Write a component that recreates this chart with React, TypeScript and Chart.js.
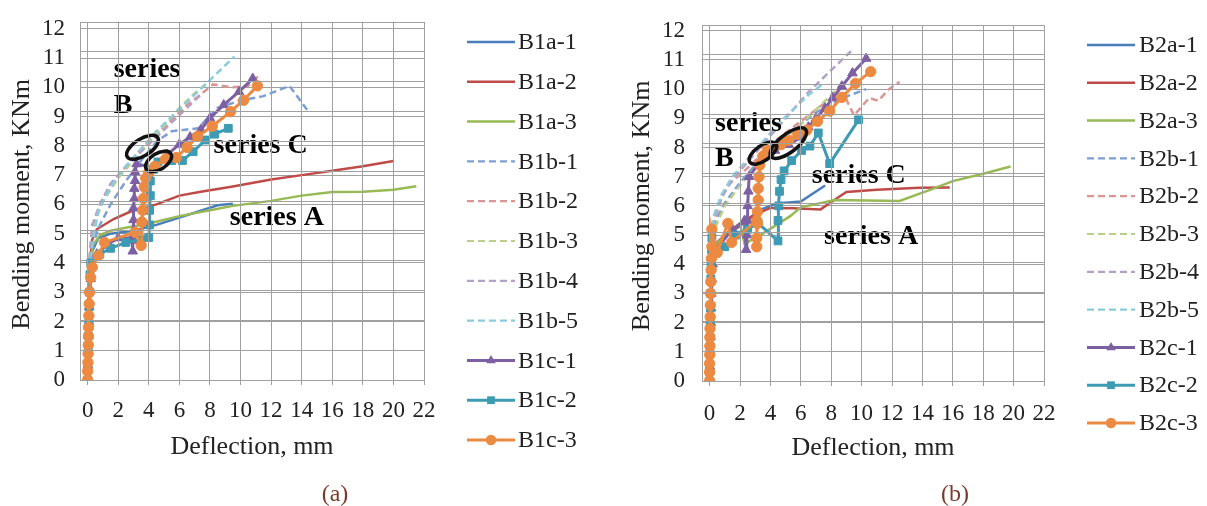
import React, { useEffect, useRef } from 'react';
import { Chart, registerables } from 'chart.js';
Chart.register(...registerables);

type Pt = [number, number];

// ---------- Panel (a) data: [deflection mm, moment kNm] ----------
const B1a_1: Pt[] = [[0,0],[0.03,1],[0.06,2],[0.1,3],[0.15,3.8],[0.3,4.4],[0.7,4.85],[1.5,5.0],[3,5.1],[4.5,5.3],[6,5.55],[7.5,5.8],[8.5,5.97],[9.5,6.02]];
const B1a_2: Pt[] = [[0,0],[0.03,1],[0.06,2],[0.1,3],[0.15,4],[0.3,4.8],[0.6,5.15],[1.7,5.5],[3,5.8],[4.5,6.0],[6,6.3],[7.4,6.43],[9.4,6.6],[12,6.85],[14,7.0],[16,7.15],[18,7.3],[20,7.48]];
const B1a_3: Pt[] = [[0,0],[0.03,1],[0.06,2],[0.1,3],[0.15,4],[0.35,4.6],[0.8,4.95],[1.5,5.1],[2.5,5.2],[4,5.35],[6,5.6],[8,5.8],[9.5,5.95],[12,6.12],[14,6.3],[16,6.42],[18,6.43],[20,6.5],[21.5,6.62]];
const B1b_1: Pt[] = [[0,0],[0.05,2],[0.1,4],[0.3,4.6],[0.8,5.3],[1.5,6.0],[2.5,6.8],[3.5,7.5],[4.5,8.15],[5.5,8.5],[7.2,8.6],[8.5,9.3],[10,9.55],[11.5,9.7],[13.2,10.05],[14.4,9.2]];
const B1b_2: Pt[] = [[0,0],[0.05,2],[0.1,4],[0.3,5.2],[0.8,6.0],[1.5,6.7],[2.5,7.3],[3.5,7.9],[4.5,8.4],[5.5,8.9],[6.5,9.4],[7.5,9.8],[8.2,10.1],[9.5,10.0],[10.5,10.05],[11.2,10.4]];
const B1b_3: Pt[] = [[0,0],[0.05,2],[0.1,4],[0.4,5.3],[1,6.1],[2,6.9],[3,7.5],[4,8.1],[5,8.7],[6,9.3],[7,9.8],[8,10.2]];
const B1b_4: Pt[] = [[0,0],[0.05,2],[0.1,4],[0.3,5.3],[0.8,6.0],[1.5,6.7],[2.5,7.3],[3.5,7.8],[4.5,8.3],[5.5,8.8],[6.5,9.3],[7.5,9.8]];
const B1b_5: Pt[] = [[0,0],[0.05,2],[0.1,3.5],[0.3,4.6],[0.7,5.8],[1.5,6.6],[2.5,7.3],[3.5,7.9],[4.5,8.5],[5.5,9.0],[6.5,9.5],[7.5,10.0],[8.5,10.5],[9.6,11.05]];
const B1c_1: Pt[] = [[0,0],[0.02,0.5],[0.04,1],[0.06,1.5],[0.08,2],[0.1,2.5],[0.15,3.1],[0.2,3.46],[0.3,3.9],[0.6,4.3],[1.2,4.6],[2.0,4.85],[2.9,4.85],[2.95,4.4],[2.95,4.77],[3.0,5.1],[3.0,5.47],[3.0,5.87],[3.05,6.2],[3.05,6.54],[3.1,6.81],[3.1,7.11],[3.2,7.38],[4.4,7.25],[5.2,7.7],[6.0,8.05],[6.7,8.3],[7.4,8.55],[8.0,8.95],[8.9,9.4],[9.9,9.85],[10.8,10.3]];
const B1c_2: Pt[] = [[0,0],[0.02,0.5],[0.04,1],[0.06,1.5],[0.08,2],[0.1,2.5],[0.12,3],[0.15,3.6],[0.2,4.0],[0.8,4.3],[1.5,4.5],[2.5,4.7],[3.5,4.8],[4.0,4.87],[4.05,5.3],[4.05,5.8],[4.1,6.3],[4.1,6.8],[4.3,7.2],[4.6,7.45],[5.5,7.5],[6.2,7.5],[6.9,7.8],[7.7,8.2],[8.3,8.4],[9.2,8.6]];
const B1c_3: Pt[] = [[0,0],[0,0.3],[0.02,0.6],[0.03,0.9],[0.04,1.2],[0.05,1.5],[0.06,1.8],[0.08,2.2],[0.1,2.6],[0.12,3.0],[0.2,3.5],[0.3,3.85],[0.7,4.25],[1.1,4.7],[3.1,5.05],[3.5,4.6],[3.55,5.4],[3.6,5.8],[3.65,6.2],[3.7,6.6],[3.8,6.9],[4.0,7.1],[4.4,7.3],[5.1,7.55],[5.8,7.6],[6.5,7.95],[7.2,8.33],[8.15,8.67],[9.35,9.17],[10.2,9.56],[11.1,10.05]];

// ---------- Panel (b) data ----------
const B2a_1: Pt[] = [[0,0],[0.05,2],[0.1,4],[0.3,4.6],[1,5.0],[2,5.3],[2.5,5.55],[3.5,5.9],[4.4,6.08],[6,6.15],[7.6,6.7]];
const B2a_2: Pt[] = [[0,0],[0.05,2],[0.1,4],[0.4,4.7],[1,5.0],[2,5.35],[3,5.7],[4,5.93],[5.5,5.92],[7.3,5.88],[8.2,6.2],[9,6.48],[11,6.55],[13.8,6.62],[15.8,6.63]];
const B2a_3: Pt[] = [[0,0],[0.05,2],[0.1,4],[0.3,4.6],[1,5.0],[2,5.4],[2.3,4.7],[3.5,5.05],[5.3,5.65],[6,5.95],[7.5,6.12],[8.2,6.2],[12.5,6.17],[14.5,6.55],[16,6.85],[18,7.1],[19.8,7.35]];
const B2b_1: Pt[] = [[0,0],[0.05,2],[0.1,4.5],[0.4,5.5],[1,6.1],[2,6.8],[3,7.4],[4,7.9],[5,8.4],[6,8.8],[7,9.2],[8,9.5],[9,9.75],[10.3,10.0]];
const B2b_2: Pt[] = [[0,0],[0.05,2],[0.1,4.5],[0.3,5.5],[0.8,6.3],[1.3,6.75],[2.5,7.3],[3.5,7.8],[4.5,8.3],[5.5,8.7],[6.5,9.1],[7.5,9.5],[8.8,9.85],[9.5,9.1],[10.5,9.7],[11.1,9.6],[11.8,10.0],[12.5,10.25]];
const B2b_3: Pt[] = [[0,0],[0.05,2],[0.1,4.3],[0.4,5.3],[1,6.0],[2,6.7],[3,7.3],[4,7.8],[5,8.3],[6,8.8],[7,9.3],[8,9.8],[8.7,10.2]];
const B2b_4: Pt[] = [[0,0],[0.05,2],[0.1,4.5],[0.3,5.6],[0.8,6.3],[1.5,6.9],[2.5,7.5],[3.5,8.1],[4.5,8.7],[5.5,9.3],[6.5,9.9],[7.5,10.4],[8.5,10.9],[9.3,11.3]];
const B2b_5: Pt[] = [[0,0],[0.05,2],[0.1,4.6],[0.3,5.7],[0.8,6.4],[1.5,7.0],[2.5,7.6],[3.5,8.2],[4.5,8.8],[5.5,9.3],[6.5,9.8],[7.5,10.2]];
const B2c_1: Pt[] = [[0,0],[0.02,0.5],[0.04,1],[0.06,1.5],[0.08,2],[0.1,2.5],[0.12,3],[0.15,3.5],[0.2,4.0],[0.4,4.5],[1.5,5.2],[2.3,5.5],[2.4,4.5],[2.45,5.0],[2.5,5.5],[2.5,6.0],[2.55,6.5],[2.6,7.0],[3.3,7.5],[4.3,7.9],[5.2,8.1],[6.0,8.35],[6.5,8.7],[7.0,9.0],[7.6,9.35],[8.1,9.7],[8.7,10.1],[9.4,10.55],[10.3,11.05]];
const B2c_2: Pt[] = [[0,0],[0,0.5],[0.02,1],[0.03,1.5],[0.04,2],[0.05,2.5],[0.06,3],[0.08,3.5],[0.1,4],[0.12,4.5],[0.15,4.9],[0.5,4.45],[1,4.6],[1.7,5.0],[2.5,5.2],[3.2,5.4],[4.5,4.8],[4.5,5.5],[4.55,6.0],[4.6,6.5],[4.7,6.9],[4.9,7.2],[5.4,7.55],[6.05,7.9],[6.6,8.05],[7.15,8.5],[7.9,7.45],[9.8,8.95]];
const B2c_3: Pt[] = [[0,0],[0,0.3],[0,0.6],[0.01,0.9],[0.02,1.2],[0.02,1.5],[0.03,1.8],[0.04,2.2],[0.05,2.6],[0.06,3.0],[0.08,3.4],[0.1,3.8],[0.12,4.2],[0.15,4.6],[0.15,5.2],[0.5,4.4],[1.2,5.4],[1.45,4.75],[3.1,5.5],[3.1,4.6],[3.1,4.9],[3.15,5.4],[3.15,5.8],[3.2,6.2],[3.2,6.6],[3.25,7.0],[3.3,7.4],[3.5,7.7],[3.8,7.9],[4.7,8.1],[5.2,8.25],[5.8,8.45],[6.4,8.6],[7.1,8.9],[7.9,9.25],[8.7,9.72],[9.6,10.2],[10.6,10.6]];

const seriesA = [B1a_1, B1a_2, B1a_3, B1b_1, B1b_2, B1b_3, B1b_4, B1b_5, B1c_1, B1c_2, B1c_3];
const seriesB = [B2a_1, B2a_2, B2a_3, B2b_1, B2b_2, B2b_3, B2b_4, B2b_5, B2c_1, B2c_2, B2c_3];
const namesA = ['B1a-1','B1a-2','B1a-3','B1b-1','B1b-2','B1b-3','B1b-4','B1b-5','B1c-1','B1c-2','B1c-3'];
const namesB = ['B2a-1','B2a-2','B2a-3','B2b-1','B2b-2','B2b-3','B2b-4','B2b-5','B2c-1','B2c-2','B2c-3'];

const xTicks = [0,2,4,6,8,10,12,14,16,18,20,22];
const yTicks = [0,1,2,3,4,5,6,7,8,9,10,11,12];
const xTitle = 'Deflection, mm';
const yTitle = 'Bending moment, KNm';

// ---------- styles ----------
const FONT = "'Liberation Serif', 'Times New Roman', serif";
const COLORS = ['#4A7EBB','#BE4B48','#98B954','#7E9FD2','#D99694','#B9CF8A','#B3A2C7','#8CCBDD','#7D5FA3','#3D9BB3','#EC8A42'];
const DASHED = [false,false,false,true,true,true,true,true,false,false,false];
const MARKS: (string | null)[] = [null,null,null,null,null,null,null,null,'triangle','rect','circle'];
const GRID = '#a0a0a0';

function drawMarker(ctx: CanvasRenderingContext2D, style: string, x: number, y: number, r: number, color: string) {
  ctx.save();
  ctx.fillStyle = color;
  ctx.beginPath();
  if (style === 'triangle') {
    let rad = 0;
    ctx.moveTo(x + Math.sin(rad) * r, y - Math.cos(rad) * r);
    rad += (2 * Math.PI) / 3;
    ctx.lineTo(x + Math.sin(rad) * r, y - Math.cos(rad) * r);
    rad += (2 * Math.PI) / 3;
    ctx.lineTo(x + Math.sin(rad) * r, y - Math.cos(rad) * r);
    ctx.closePath();
  } else if (style === 'rect') {
    const s = r * Math.SQRT1_2;
    ctx.rect(x - s, y - s, 2 * s, 2 * s);
  } else {
    ctx.arc(x, y, r, 0, Math.PI * 2);
  }
  ctx.fill();
  ctx.restore();
}

type Note = { t: string; x: number; y: number };
type Ell = { x: number; y: number; rx: number; ry: number; rot: number };

type PanelGeom = {
  left: number; width: number; height: number;
  areaLeft: number; areaRight: number; areaTop: number; areaBottom: number;
  yLabelPad: number; yTitlePad: number; xLabelPad: number; xTitlePad: number;
  legX0: number; legX1: number; legTX: number; legY0: number; legStep: number;
  capX: number; capY: number; caption: string;
};

// grid-only chart: same scales, no data, drawn on its own transparent canvas
function makeGridConfig(g: PanelGeom) {
  return {
    type: 'scatter' as const,
    data: { datasets: [{ label: 'grid', data: [], showLine: false, pointRadius: 0 }] },
    options: {
      responsive: false,
      animation: false,
      layout: { padding: { left: 0, top: g.areaTop, right: g.width - g.areaRight, bottom: 0 } },
      plugins: { legend: { display: false }, tooltip: { enabled: false } },
      scales: {
        x: {
          type: 'linear', min: -0.5, max: 22,
          afterBuildTicks: (s: any) => { s.ticks = xTicks.map((v) => ({ value: v })); },
          afterFit: (s: any) => { s.height = g.height - g.areaBottom; },
          grid: { color: GRID, tickLength: 5 },
          border: { color: GRID },
          ticks: { display: false },
        },
        y: {
          type: 'linear', min: 0, max: 12,
          afterBuildTicks: (s: any) => { s.ticks = yTicks.map((v) => ({ value: v })); },
          afterFit: (s: any) => { s.width = g.areaLeft; },
          grid: { color: GRID, drawTicks: false },
          border: { color: GRID },
          ticks: { display: false },
        },
      },
    },
  };
}

function makeConfig(series: Pt[][], names: string[], g: PanelGeom, notes: Note[], ells: Ell[]) {
  const datasets = series.map((s, i) => ({
    label: names[i],
    data: s.map(([x, y]) => ({ x, y })),
    showLine: true,
    fill: false,
    borderColor: COLORS[i],
    backgroundColor: COLORS[i],
    pointBackgroundColor: COLORS[i],
    pointBorderColor: COLORS[i],
    borderWidth: i >= 8 ? 3 : 2.5,
    borderDash: DASHED[i] ? [7, 4] : undefined,
    pointStyle: MARKS[i] || 'circle',
    pointRadius: MARKS[i] ? (MARKS[i] === 'circle' ? 5.2 : 5.5) : 0,
    pointBorderWidth: 1,
    tension: 0,
    order: series.length - i,
  }));

  const legendPlugin = {
    id: 'excelLegend',
    afterDraw(chart: any) {
      const ctx = chart.ctx as CanvasRenderingContext2D;
      chart.data.datasets.forEach((ds: any, i: number) => {
        const y = g.legY0 + i * g.legStep;
        ctx.save();
        ctx.strokeStyle = ds.borderColor;
        ctx.lineWidth = DASHED[i] ? 2.2 : ds.borderWidth;
        ctx.setLineDash(ds.borderDash || []);
        ctx.beginPath();
        ctx.moveTo(g.legX0, y);
        ctx.lineTo(g.legX1, y);
        ctx.stroke();
        ctx.setLineDash([]);
        if (ds.pointRadius > 0) drawMarker(ctx, ds.pointStyle, (g.legX0 + g.legX1) / 2, y, ds.pointRadius, ds.backgroundColor);
        ctx.fillStyle = '#222';
        ctx.font = `24px ${FONT}`;
        ctx.textBaseline = 'middle';
        ctx.textAlign = 'left';
        ctx.fillText(ds.label, g.legTX, y + 1);
        ctx.restore();
      });
      ctx.save();
      ctx.fillStyle = '#7a3b2e';
      ctx.font = `24px ${FONT}`;
      ctx.textAlign = 'center';
      ctx.textBaseline = 'middle';
      ctx.fillText(g.caption, g.capX, g.capY);
      ctx.restore();
    },
  };

  const notePlugin = {
    id: 'seriesNotes',
    afterDatasetsDraw(chart: any) {
      const ctx = chart.ctx as CanvasRenderingContext2D;
      const xs = chart.scales.x, ys = chart.scales.y;
      ctx.save();
      ctx.strokeStyle = '#111';
      ctx.lineWidth = 3.5;
      ells.forEach((e) => {
        ctx.beginPath();
        ctx.ellipse(xs.getPixelForValue(e.x), ys.getPixelForValue(e.y), e.rx, e.ry, (e.rot * Math.PI) / 180, 0, Math.PI * 2);
        ctx.stroke();
      });
      ctx.fillStyle = '#000';
      ctx.font = `bold 28px ${FONT}`;
      ctx.textAlign = 'left';
      ctx.textBaseline = 'alphabetic';
      notes.forEach((n) => {
        ctx.fillText(n.t, xs.getPixelForValue(n.x), ys.getPixelForValue(n.y));
      });
      ctx.restore();
    },
  };

  return {
    type: 'scatter' as const,
    data: { datasets },
    options: {
      responsive: false,
      animation: false,
      layout: { padding: { left: 0, top: g.areaTop, right: g.width - g.areaRight, bottom: 0 } },
      plugins: { legend: { display: false }, tooltip: { enabled: false } },
      scales: {
        x: {
          type: 'linear',
          min: -0.5,
          max: 22,
          afterBuildTicks: (s: any) => { s.ticks = xTicks.map((v) => ({ value: v })); },
          afterFit: (s: any) => { s.height = g.height - g.areaBottom; },
          grid: { color: GRID, tickLength: 5 },
          border: { color: GRID },
          ticks: { color: '#222', padding: g.xLabelPad, maxRotation: 0, autoSkip: false, font: { family: FONT, size: 23 } },
          title: { display: true, text: xTitle, color: '#222', font: { family: FONT, size: 26 }, padding: { top: 0, bottom: g.xTitlePad } },
        },
        y: {
          type: 'linear',
          min: 0,
          max: 12,
          afterBuildTicks: (s: any) => { s.ticks = yTicks.map((v) => ({ value: v })); },
          afterFit: (s: any) => { s.width = g.areaLeft; },
          grid: { color: GRID, drawTicks: false },
          border: { color: GRID },
          ticks: { color: '#222', padding: g.yLabelPad, autoSkip: false, font: { family: FONT, size: 23 } },
          title: { display: true, text: yTitle, color: '#222', font: { family: FONT, size: 26 }, padding: { top: g.yTitlePad, bottom: 0 } },
        },
      },
    },
    plugins: [notePlugin, legendPlugin],
  };
}

const geomA: PanelGeom = {
  left: 0, width: 603, height: 506,
  areaLeft: 80, areaRight: 424, areaTop: 22, areaBottom: 380,
  yLabelPad: 15, yTitlePad: 7, xLabelPad: 12, xTitlePad: 43,
  legX0: 467, legX1: 515, legTX: 518, legY0: 42, legStep: 39.8,
  capX: 335, capY: 495, caption: '(a)',
};
const geomB: PanelGeom = {
  left: 603, width: 604, height: 506,
  areaLeft: 99, areaRight: 441, areaTop: 25, areaBottom: 381,
  yLabelPad: 17, yTitlePad: 24, xLabelPad: 14, xTitlePad: 42,
  legX0: 484, legX1: 532, legTX: 536, legY0: 45, legStep: 37.8,
  capX: 352, capY: 495, caption: '(b)',
};

const notesA: Note[] = [
  { t: 'series', x: 1.7, y: 10.34 },
  { t: 'B', x: 1.7, y: 9.12 },
  { t: 'series C', x: 8.24, y: 7.74 },
  { t: 'series A', x: 9.3, y: 5.31 },
];
const ellsA: Ell[] = [
  { x: 3.59, y: 7.95, rx: 18, ry: 8.5, rot: -32 },
  { x: 4.64, y: 7.47, rx: 14.5, ry: 8, rot: -32 },
];
const notesB: Note[] = [
  { t: 'series', x: 0.36, y: 8.56 },
  { t: 'B', x: 0.36, y: 7.38 },
  { t: 'series C', x: 6.72, y: 6.77 },
  { t: 'series A', x: 7.53, y: 4.69 },
];
const ellsB: Ell[] = [
  { x: 3.51, y: 7.81, rx: 16, ry: 7.5, rot: -35 },
  { x: 5.18, y: 8.15, rx: 22, ry: 9, rot: -38 },
];

function Panel(props: { series: Pt[][]; names: string[]; g: PanelGeom; notes: Note[]; ells: Ell[] }) {
  const dataRef = useRef<HTMLCanvasElement>(null);
  const gridRef = useRef<HTMLCanvasElement>(null);
  useEffect(() => {
    if (!dataRef.current || !gridRef.current) return;
    const chart = new Chart(dataRef.current, makeConfig(props.series, props.names, props.g, props.notes, props.ells) as any);
    const grid = new Chart(gridRef.current, makeGridConfig(props.g) as any);
    return () => {
      chart.destroy();
      grid.destroy();
    };
  }, []);
  const st = { position: 'absolute' as const, left: props.g.left, top: 0, width: props.g.width, height: props.g.height };
  return (
    <>
      <canvas ref={dataRef} width={props.g.width} height={props.g.height} style={st} />
      <canvas ref={gridRef} width={props.g.width} height={props.g.height} style={{ ...st, pointerEvents: 'none' }} />
    </>
  );
}

export default function App() {
  return (
    <div style={{ position: 'fixed', left: 0, top: 0, width: 1207, height: 506, background: '#fff', overflow: 'hidden' }}>
      <Panel series={seriesA} names={namesA} g={geomA} notes={notesA} ells={ellsA} />
      <Panel series={seriesB} names={namesB} g={geomB} notes={notesB} ells={ellsB} />
    </div>
  );
}
